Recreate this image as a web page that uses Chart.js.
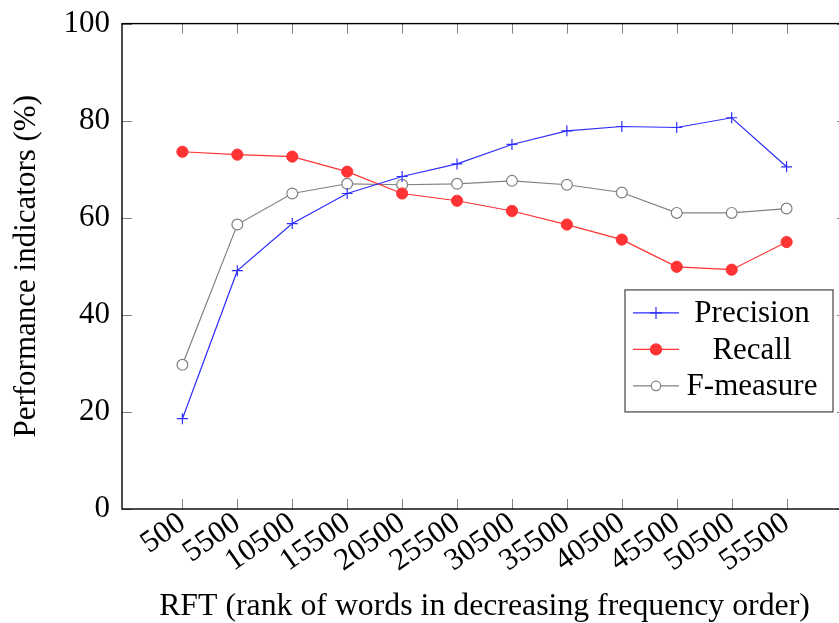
<!DOCTYPE html>
<html>
<head>
<meta charset="utf-8">
<script src="https://cdn.jsdelivr.net/npm/chart.js@4/dist/chart.umd.min.js"></script>
<style>
  body { margin: 0; background: #fff; overflow: hidden; }
  #wrap { width: 839px; height: 623px; overflow: hidden; }
  /* the plot box in the original runs past the right edge, so the canvas is wider than the page */
  #chart { display: block; margin-top: -7px; }
</style>
</head>
<body>
<div id="wrap"><canvas id="chart" width="860" height="630"></canvas></div>
<script>
// RFT values (x axis)
const rftValues = [500, 5500, 10500, 15500, 20500, 25500, 30500, 35500, 40500, 45500, 50500, 55500];
const yTicks = [0, 20, 40, 60, 80, 100];

const precision = [18.6, 49.1, 58.8, 65.0, 68.5, 71.1, 75.1, 77.9, 78.8, 78.6, 80.6, 70.5];
const recall    = [73.6, 73.0, 72.6, 69.5, 65.0, 63.5, 61.4, 58.6, 55.5, 49.9, 49.3, 55.0];
const fmeasure  = [29.7, 58.6, 65.0, 67.0, 66.8, 67.0, 67.6, 66.8, 65.2, 61.0, 61.0, 61.9];

const BLUE = 'rgb(45,45,255)';
const RED = 'rgb(255,51,51)';
const GRAY = 'rgb(128,128,128)';
const FONT = '"Liberation Serif", "DejaVu Serif", serif';

const toPoints = arr => arr.map((v, i) => ({ x: rftValues[i], y: v }));

// box + inward ticks on all four sides, pgfplots style
const frame = {
  id: 'frame',
  afterDraw(chart) {
    const { ctx, chartArea: a, scales: { x, y } } = chart;
    ctx.save();
    ctx.strokeStyle = GRAY;
    ctx.lineWidth = 1;
    const t = 10;
    rftValues.forEach(v => {
      const px = Math.round(x.getPixelForValue(v)) + 0.5;
      ctx.beginPath();
      ctx.moveTo(px, a.bottom); ctx.lineTo(px, a.bottom - t);
      ctx.moveTo(px, a.top); ctx.lineTo(px, a.top + t);
      ctx.stroke();
    });
    yTicks.forEach(v => {
      const py = Math.round(y.getPixelForValue(v)) + 0.5;
      ctx.beginPath();
      ctx.moveTo(a.left, py); ctx.lineTo(a.left + t, py);
      ctx.moveTo(a.right, py); ctx.lineTo(a.right - t, py);
      ctx.stroke();
    });
    ctx.strokeStyle = '#000';
    ctx.lineWidth = 1.4;
    ctx.strokeRect(a.left, a.top, a.right - a.left, a.bottom - a.top);
    ctx.restore();
  }
};

// legend box in the plot area
const legendBox = {
  id: 'legendBox',
  afterDraw(chart) {
    const { ctx, chartArea: a, scales: { y } } = chart;
    const right = a.right - 14, bottom = y.getPixelForValue(20);
    const left = right - 208, top = bottom - 122;
    ctx.save();
    ctx.fillStyle = '#fff';
    ctx.fillRect(left, top, right - left, bottom - top);
    ctx.strokeStyle = '#444';
    ctx.lineWidth = 1.2;
    ctx.strokeRect(left, top, right - left, bottom - top);
    const rowH = 36.5;
    chart.data.datasets.forEach((ds, i) => {
      const cy = top + 23 + i * rowH;
      const lx0 = left + 8, lx1 = left + 54, mx = left + 31;
      ctx.strokeStyle = ds.borderColor;
      ctx.lineWidth = 1.2;
      ctx.beginPath(); ctx.moveTo(lx0, cy); ctx.lineTo(lx1, cy); ctx.stroke();
      if (ds.pointStyle === 'cross') {
        ctx.beginPath();
        ctx.moveTo(mx - 6, cy); ctx.lineTo(mx + 6, cy);
        ctx.moveTo(mx, cy - 6); ctx.lineTo(mx, cy + 6);
        ctx.stroke();
      } else {
        ctx.beginPath();
        ctx.arc(mx, cy, i === 1 ? 5.5 : 4.7, 0, Math.PI * 2);
        ctx.fillStyle = ds.pointBackgroundColor;
        ctx.fill();
        ctx.strokeStyle = ds.pointBorderColor;
        ctx.stroke();
      }
      ctx.fillStyle = '#000';
      ctx.font = '31px ' + FONT;
      ctx.textAlign = 'center';
      ctx.textBaseline = 'middle';
      ctx.fillText(ds.label, left + 127, cy + 1);
    });
    ctx.restore();
  }
};

new Chart(document.getElementById('chart'), {
  type: 'line',
  data: {
    datasets: [
      {
        label: 'Precision',
        data: toPoints(precision),
        borderColor: BLUE,
        borderWidth: 1.2,
        pointStyle: 'cross',
        pointRadius: 5.5,
        pointBorderWidth: 1.2,
        pointBorderColor: BLUE,
        pointBackgroundColor: BLUE
      },
      {
        label: 'Recall',
        data: toPoints(recall),
        borderColor: RED,
        borderWidth: 1.2,
        pointStyle: 'circle',
        pointRadius: 5.6,
        pointBorderWidth: 1,
        pointBorderColor: RED,
        pointBackgroundColor: RED
      },
      {
        label: 'F-measure',
        data: toPoints(fmeasure),
        borderColor: GRAY,
        borderWidth: 1.2,
        pointStyle: 'circle',
        pointRadius: 5.4,
        pointBorderWidth: 1.2,
        pointBorderColor: GRAY,
        pointBackgroundColor: '#fff'
      }
    ]
  },
  options: {
    responsive: false,
    animation: false,
    layout: { padding: { top: 17, right: 13, left: 0, bottom: 0 } },
    plugins: { legend: { display: false }, tooltip: { enabled: false } },
    scales: {
      x: {
        type: 'linear',
        min: -5000,
        max: 61000,
        afterBuildTicks: s => { s.ticks = rftValues.map(v => ({ value: v })); },
        afterFit: s => { s.height = 114; },
        grid: { display: false, drawTicks: false },
        border: { display: false },
        ticks: {
          autoSkip: false,
          minRotation: 35,
          maxRotation: 35,
          padding: -4,
          color: '#000',
          font: { family: FONT, size: 31 },
          callback: v => String(v)
        },
        title: {
          display: true,
          text: 'RFT (rank of words in decreasing frequency order)',
          color: '#000',
          font: { family: FONT, size: 31.8 },
          padding: { top: 0, bottom: -3 }
        }
      },
      y: {
        min: 0,
        max: 100,
        afterBuildTicks: s => { s.ticks = yTicks.map(v => ({ value: v })); },
        afterFit: s => { s.width = 122; },
        grid: { display: false, drawTicks: false },
        border: { display: false },
        ticks: {
          padding: 12,
          color: '#000',
          font: { family: FONT, size: 31 }
        },
        title: {
          display: true,
          text: 'Performance indicators (%)',
          color: '#000',
          font: { family: FONT, size: 31 },
          padding: { top: 8, bottom: 0 }
        }
      }
    }
  },
  plugins: [frame, legendBox]
});
</script>
</body>
</html>
